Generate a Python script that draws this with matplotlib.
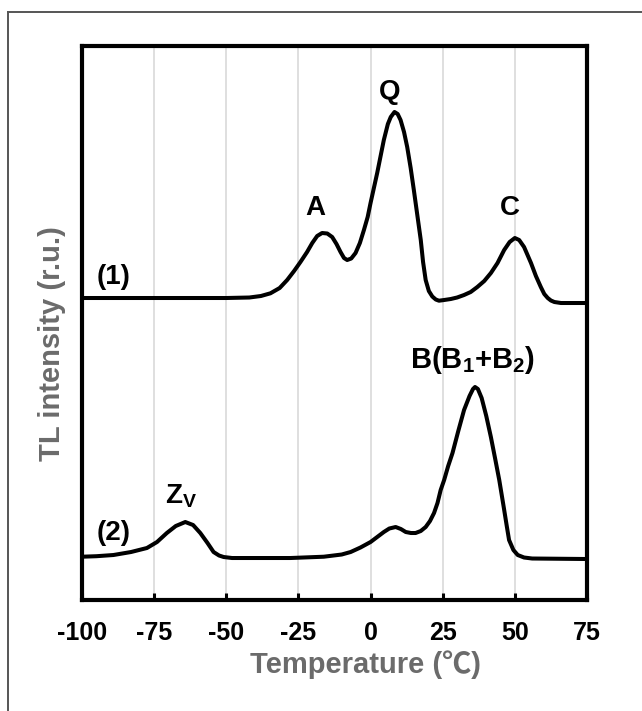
import matplotlib
matplotlib.use("Agg")
import matplotlib.pyplot as plt
import numpy as np
from matplotlib.lines import Line2D

# TL glow curves (temperature in degC, height above own baseline)
temp_1 = [-100, -50, -42, -38, -34.7, -31.5, -28.9, -26.5, -24.3, -22, -20.2, -18.5, -16.8,
          -15, -13.3, -11.8, -10.4, -9.2, -8.1, -6.7, -5.2, -3.7, -2.3, -1, 0, 2.3, 4.6, 6.0,
          7.0, 8.3, 9.4, 10.4, 11.6, 12.7, 13.9, 15.0, 16.2, 17.4, 18.2, 19.1, 20.2, 21.4,
          22.6, 23.7, 25.5, 27.8, 30, 32.4, 34.7, 37.0, 39.4, 41.7, 44, 46.3, 48.2, 50.0,
          51.5, 53.2, 55.6, 57.3, 59.0, 60.2, 61.4, 62.5, 63.7, 66, 75]
tl_1 = [0, 0, 0.5, 2, 4.7, 10, 18, 27, 36, 46, 55, 62, 65,
        64.5, 61, 54, 46, 40, 38, 39.5, 45, 55, 68, 81, 95, 125, 158, 174,
        181, 186, 184, 178, 166, 151, 130, 108, 83, 58, 36, 18, 7, 1.5,
        -1.5, -2.7, -2, -1, 0.5, 3, 6, 11, 17, 25, 35, 48, 56, 60,
        58, 51, 35, 22, 11, 4, 0, -2.5, -4, -5, -5]

temp_2 = [-100, -95, -89.1, -83, -77.5, -74, -70.6, -67.5, -64.2, -61.5, -59, -56.5, -54.4,
          -52.5, -50.9, -48, -27.8, -16.2, -10, -6.9, -3.5, 0, 2.3, 4.6, 6.5, 8.7, 10.5,
          12.2, 14, 15.6, 17.4, 19.1, 20.6, 22.0, 23.2, 24.3, 25.5, 26.9, 28.4, 30.4, 32.4,
          34.3, 35.5, 36.2, 37.2, 38.5, 40.1, 41.7, 43.2, 44.6, 46.2, 47.2, 48.0, 49.5, 51,
          53.2, 56, 75]
tl_2 = [1.3, 1.8, 3, 6, 10, 16, 25, 32, 36, 33, 25, 15, 6,
        2.5, 1, 0, 0, 1.3, 3.5, 6, 10.5, 16, 21, 26, 29.5, 31, 29,
        26, 25, 25, 27, 31, 37, 45, 55, 68, 78, 92, 105, 127, 148,
        162, 169, 171, 169, 160, 142, 121, 99, 78, 50, 32, 18, 8, 3,
        0.5, -0.5, -1]

offset_1 = 302
offset_2 = 42
x_ticks = [-100, -75, -50, -25, 0, 25, 50, 75]

plt.rcParams['font.family'] = ['Liberation Sans', 'DejaVu Sans']
plt.rcParams['font.weight'] = 'bold'
plt.rcParams['mathtext.fontset'] = 'custom'
plt.rcParams['mathtext.rm'] = 'Liberation Sans:bold'
plt.rcParams['mathtext.bf'] = 'Liberation Sans:bold'
plt.rcParams['mathtext.it'] = 'Liberation Sans:bold'

fig = plt.figure(figsize=(6.42, 7.11), dpi=100)
ax = fig.add_axes([0.1277, 0.1561, 0.7866, 0.7792])

ax.plot(temp_1, np.array(tl_1) + offset_1, color='black', lw=2.9,
        solid_joinstyle='round', solid_capstyle='round')
ax.plot(temp_2, np.array(tl_2) + offset_2, color='black', lw=2.9,
        solid_joinstyle='round', solid_capstyle='round')

ax.set_xlim(-100, 75)
ax.set_ylim(0, 554)
ax.set_xticks(x_ticks)
ax.set_xticklabels([str(t) for t in x_ticks])
ax.set_yticks([])
ax.tick_params(axis='x', direction='in', length=5, width=2.2, labelsize=18, pad=15)
ax.grid(axis='x', color='#d9d9d9', lw=1.2)
ax.set_axisbelow(True)
for sp in ax.spines.values():
    sp.set_linewidth(3)

# peak labels
ax.text(-19.1, 392, 'A', fontsize=20, ha='center', va='center')
ax.text(6.6, 508, 'Q', fontsize=20, ha='center', va='center')
ax.text(48.3, 392, 'C', fontsize=20, ha='center', va='center')
ax.text(35.2, 232, r'B(B$_\mathbf{1}$+B$_\mathbf{2}$)', fontsize=21, ha='center', va='baseline')
ax.text(-71.2, 97, r'Z$_\mathbf{V}$', fontsize=20, ha='left', va='baseline')
ax.text(-94.8, 316, '(1)', fontsize=20, ha='left', va='baseline')
ax.text(-94.8, 60, '(2)', fontsize=20, ha='left', va='baseline')

fig.text(52 / 642, 1 - 344 / 711, 'TL intensity (r.u.)', rotation=90, fontsize=21,
         color='#6b6b6b', ha='center', va='center')
fig.text(365 / 642, 1 - 665 / 711, 'Temperature (\u2103)', fontsize=21,
         color='#6b6b6b', ha='center', va='center',
         family=['Liberation Sans', 'Noto Sans CJK JP', 'DejaVu Sans'])

# outer frame of the original figure
fig.add_artist(Line2D([8 / 642, 1.0], [1 - 12 / 711, 1 - 12 / 711],
                      transform=fig.transFigure, color='#555555', lw=1.4))
fig.add_artist(Line2D([8 / 642, 8 / 642], [1 - 12 / 711, 0.0],
                      transform=fig.transFigure, color='#555555', lw=1.4))

fig.savefig('out.png', dpi=100)
